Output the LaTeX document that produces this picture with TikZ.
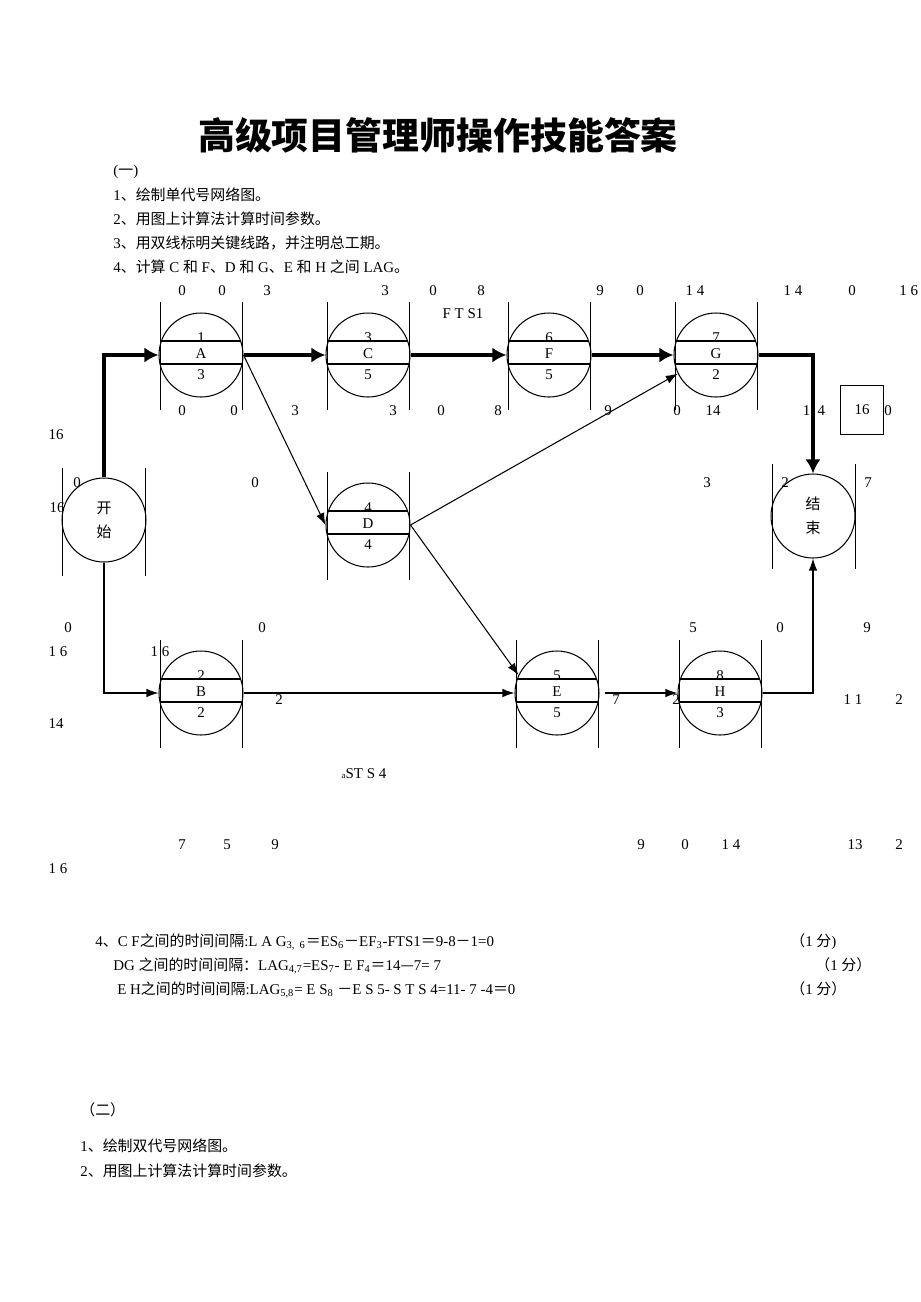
\documentclass[tikz,border=0pt]{standalone}
\usepackage{fontspec}
\setmainfont{Liberation Serif}
\newfontfamily\cjk{Noto Sans CJK SC}
\usetikzlibrary{arrows.meta}

\tikzset{
  task/.style={circle, draw, line width=0.6pt, inner sep=0pt, minimum size=1.68cm},
  bar/.style={line width=0.5pt},
  crit/.style={line width=2.4pt, -{Latex[length=0.28cm, width=0.3cm]}},
  link/.style={line width=0.6pt, -{Latex[length=0.24cm, width=0.17cm]}},
  num/.style={inner sep=0pt, font=\fontsize{8.5}{10}\selectfont},
  txt/.style={anchor=base west, inner sep=0pt, font=\fontsize{8.5}{10}\selectfont},
}

% circle with its two side bars: name, x, y, top, label, bottom
\newcommand{\activity}[6]{%
  \node[task] (#1) at (#2,#3) {};
  \draw[bar] ([shift={(-41,-53)}]#1.center) -- ++(0,108);
  \draw[bar] ([shift={(41,-53)}]#1.center) -- ++(0,108);
  \draw[line width=0.6pt] ([shift={(-40,-14)}]#1.center) -- ++(80,0);
  \draw[line width=0.6pt] ([shift={(-41,9)}]#1.center) -- ++(82,0);
  \node[num] (#1t) at ([shift={(0,-17)}]#1.center) {#4};
  \node[num] (#1n) at ([shift={(0,-1)}]#1.center) {#5};
  \node[num] (#1b) at ([shift={(0,20)}]#1.center) {#6};
}

\begin{document}
\begin{tikzpicture}[x=0.02cm, y=-0.02cm]
  \useasboundingbox (0,0) rectangle (920,1302);

  \node[font=\cjk\bfseries\fontsize{21}{25}\selectfont] (title) at (438,135) {高级项目管理师操作技能答案};
  \node[txt] (q0) at (113,175) {({\cjk 一})};
  \node[txt] (q1) at (113,200) {1{\cjk 、绘制单代号网络图。}};
  \node[txt] (q2) at (113,224) {2{\cjk 、用图上计算法计算时间参数。}};
  \node[txt] (q3) at (113,248) {3{\cjk 、用双线标明关键线路，并注明总工期。}};
  \node[txt] (q4) at (113,272) {4{\cjk 、计算} C {\cjk 和} F{\cjk 、}D {\cjk 和} G{\cjk 、}E {\cjk 和} H {\cjk 之间} LAG{\cjk 。}};

  % activities
  \activity{A}{201}{355}{1}{A}{3}
  \activity{C}{368}{355}{3}{C}{5}
  \activity{F}{549}{355}{6}{F}{5}
  \activity{G}{716}{355}{7}{G}{2}
  \activity{D}{368}{525}{4}{D}{4}
  \activity{B}{201}{693}{2}{B}{2}
  \activity{E}{557}{693}{5}{E}{5}
  \activity{H}{720}{693}{8}{H}{3}

  \node[task, align=center, font=\cjk\fontsize{8.5}{13.6}\selectfont] (st) at (104,520) {开\\始};
  \draw[bar] ([shift={(-42,-52)}]st.center) -- ++(0,108);
  \draw[bar] ([shift={(41,-52)}]st.center) -- ++(0,108);
  \node[task, align=center, font=\cjk\fontsize{8.5}{13.6}\selectfont] (fin) at (813,516) {结\\束};
  \draw[bar] ([shift={(-41,-52)}]fin.center) -- ++(0,105);
  \draw[bar] ([shift={(42,-52)}]fin.center) -- ++(0,105);

  \node[draw, line width=0.5pt, minimum width=0.86cm, minimum height=0.98cm, num] (total) at (862,410) {16};

  % connectors
  \draw[crit] (st.north) |- (A.west);
  \draw[crit] (A.east) -- (C.west);
  \draw[crit] (C.east) -- (F.west);
  \draw[crit] (F.east) -- (G.west);
  \draw[crit] (G.east) -| (fin.north);
  \draw[link] (A.east) -- (D.west);
  \draw[link] (D.east) -- (G.206);
  \draw[link] (D.east) -- (E.155);
  \draw[link] (st.south) |- (B.west);
  \draw[link] (B.east) -- (E.west);
  \draw[link] ([shift={(5,0)}]E.east) -- (H.west);
  \draw[link] (H.east) -| (fin.south);

  % time parameters
  \node[num] (v1) at (182,291) {0};
  \node[num] (v2) at (222,291) {0};
  \node[num] (v3) at (267,291) {3};
  \node[num] (v4) at (385,291) {3};
  \node[num] (v5) at (433,291) {0};
  \node[num] (v6) at (481,291) {8};
  \node[num] (v7) at (600,291) {9};
  \node[num] (v8) at (640,291) {0};
  \node[num] (v9) at (695,291) {1 4};
  \node[num] (v10) at (793,291) {1 4};
  \node[num] (v11) at (852,291) {0};
  \node[num, anchor=west] (v12) at (899,291) {1 6};
  \node[num] (lag1) at (463,314) {F T S1};

  \node[num] (v13) at (182,411) {0};
  \node[num] (v14) at (234,411) {0};
  \node[num] (v15) at (295,411) {3};
  \node[num] (v16) at (393,411) {3};
  \node[num] (v17) at (441,411) {0};
  \node[num] (v18) at (498,411) {8};
  \node[num] (v19) at (608,411) {9};
  \node[num] (v20) at (677,411) {0};
  \node[num] (v21) at (713,411) {14};
  \node[num] (v22) at (814,411) {1\enspace 4};
  \node[num] (v23) at (888,411) {0};
  \node[num] (v24) at (56,435) {16};

  \node[num] (v25) at (77,483) {0};
  \node[num] (v26) at (255,483) {0};
  \node[num] (v27) at (707,483) {3};
  \node[num] (v28) at (785,483) {2};
  \node[num] (v29) at (868,483) {7};
  \node[num] (v30) at (57,508) {16};

  \node[num] (v31) at (68,628) {0};
  \node[num] (v32) at (262,628) {0};
  \node[num] (v33) at (693,628) {5};
  \node[num] (v34) at (780,628) {0};
  \node[num] (v35) at (867,628) {9};
  \node[num] (v36) at (58,652) {1 6};
  \node[num] (v37) at (160,652) {1 6};

  \node[num] (v38) at (279,700) {2};
  \node[num] (v39) at (616,700) {7};
  \node[num] (v40) at (676,700) {2};
  \node[num] (v41) at (853,700) {1 1};
  \node[num] (v42) at (899,700) {2};
  \node[num] (v43) at (56,724) {14};
  \node[num] (lag2) at (364,774) {{\fontsize{5}{5}\selectfont a}ST S 4};

  \node[num] (v44) at (182,845) {7};
  \node[num] (v45) at (227,845) {5};
  \node[num] (v46) at (275,845) {9};
  \node[num] (v47) at (641,845) {9};
  \node[num] (v48) at (685,845) {0};
  \node[num] (v49) at (731,845) {1 4};
  \node[num] (v50) at (855,845) {13};
  \node[num] (v51) at (899,845) {2};
  \node[num] (v52) at (58,869) {1 6};

  % answers
  \node[txt] (r1) at (95,946) {4{\cjk 、}C F{\cjk 之间的时间间隔}:L A G\textsubscript{3,\ \ 6}{\cjk ＝}ES\textsubscript{6}{\cjk －}EF\textsubscript{3}-FTS1{\cjk ＝}9-8{\cjk －}1=0};
  \node[txt] (p1) at (790,946) {{\cjk （}1 {\cjk 分})};
  \node[txt] (r2) at (113,970) {DG {\cjk 之间的时间间隔：}LAG\textsubscript{4,7}=ES\textsubscript{7}- E F\textsubscript{4}{\cjk ＝}14{\cjk —}7= 7};
  \node[txt] (p2) at (815,970) {{\cjk （}1 {\cjk 分）}};
  \node[txt] (r3) at (117,994) {E H{\cjk 之间的时间间隔}:LAG\textsubscript{5,8}= E S\textsubscript{8} {\cjk －}E S 5- S T S 4=11- 7 -4{\cjk ＝}0};
  \node[txt] (p3) at (790,994) {{\cjk （}1 {\cjk 分）}};

  \node[txt] (s0) at (80,1115) {{\cjk （二）}};
  \node[txt] (s1) at (80,1151) {1{\cjk 、绘制双代号网络图。}};
  \node[txt] (s2) at (80,1176) {2{\cjk 、用图上计算法计算时间参数。}};
\end{tikzpicture}
\end{document}
